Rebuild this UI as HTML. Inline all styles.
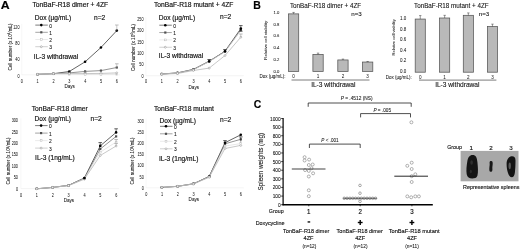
<!DOCTYPE html>
<html><head><meta charset="utf-8"><style>
html,body{margin:0;padding:0;background:#fff;}
svg{display:block;font-family:"Liberation Sans", sans-serif;filter:blur(0.3px);}
text{stroke:#111;}
</style></head><body>
<svg width="520" height="249" viewBox="0 0 520 249">
<rect width="520" height="249" fill="#fff"/>
<text x="0.70" y="9.10" font-size="10.6" text-anchor="start" font-weight="bold" fill="#000"  textLength="8.9" lengthAdjust="spacingAndGlyphs" stroke-width="0.160">A</text>
<text x="32.50" y="7.30" font-size="6.7" text-anchor="start" font-weight="normal" fill="#111"  stroke-width="0.160">TonBaF-R18 dimer + 4ZF</text>
<text x="34.80" y="20.40" font-size="6.6" text-anchor="start" font-weight="normal" fill="#111"  stroke-width="0.160">Dox (µg/mL)</text>
<text x="94.00" y="20.20" font-size="6.6" text-anchor="start" font-weight="normal" fill="#111"  stroke-width="0.160">n=2</text>
<line x1="35.30" y1="25.10" x2="47.80" y2="25.10" stroke="#222" stroke-width="0.6" />
<circle cx="41.30" cy="25.10" r="1.3" fill="#000" stroke="none" stroke-width="0.6"/>
<text x="49.30" y="27.60" font-size="4.9" text-anchor="start" font-weight="normal" fill="#111"  stroke-width="0.072">0</text>
<line x1="35.30" y1="32.30" x2="47.80" y2="32.30" stroke="#666" stroke-width="0.6" />
<rect x="40.20" y="31.20" width="2.20" height="2.20" fill="#505050" stroke="none" stroke-width="0.6" />
<text x="49.30" y="34.80" font-size="4.9" text-anchor="start" font-weight="normal" fill="#111"  stroke-width="0.072">1</text>
<line x1="35.30" y1="39.50" x2="47.80" y2="39.50" stroke="#dedede" stroke-width="0.6" />
<rect x="40.40" y="38.60" width="1.80" height="1.80" fill="#fff" stroke="#bbb" stroke-width="0.5" />
<text x="49.30" y="42.00" font-size="4.9" text-anchor="start" font-weight="normal" fill="#111"  stroke-width="0.072">2</text>
<line x1="35.30" y1="46.70" x2="47.80" y2="46.70" stroke="#b0b0b0" stroke-width="0.6" />
<circle cx="41.30" cy="46.70" r="0.95" fill="#fff" stroke="#888" stroke-width="0.5"/>
<text x="49.30" y="49.20" font-size="4.9" text-anchor="start" font-weight="normal" fill="#111"  stroke-width="0.072">3</text>
<text x="33.80" y="59.30" font-size="6.6" text-anchor="start" font-weight="normal" fill="#111"  stroke-width="0.160">IL-3 withdrawal</text>
<line x1="21.70" y1="74.80" x2="119.80" y2="74.80" stroke="#ececec" stroke-width="0.6" />
<line x1="21.70" y1="74.80" x2="21.70" y2="23.84" stroke="#f2f2f2" stroke-width="0.6" />
<text x="19.60" y="77.60" font-size="5.3" text-anchor="end" font-weight="normal" fill="#111"  textLength="2.12" lengthAdjust="spacingAndGlyphs" stroke-width="0.020">0</text>
<text x="19.60" y="61.28" font-size="5.3" text-anchor="end" font-weight="normal" fill="#111"  textLength="4.24" lengthAdjust="spacingAndGlyphs" stroke-width="0.020">40</text>
<text x="19.60" y="44.96" font-size="5.3" text-anchor="end" font-weight="normal" fill="#111"  textLength="4.24" lengthAdjust="spacingAndGlyphs" stroke-width="0.020">80</text>
<text x="19.60" y="28.64" font-size="5.3" text-anchor="end" font-weight="normal" fill="#111"  textLength="6.37" lengthAdjust="spacingAndGlyphs" stroke-width="0.020">120</text>
<text x="21.80" y="82.60" font-size="5.3" text-anchor="middle" font-weight="normal" fill="#111"  textLength="2.12" lengthAdjust="spacingAndGlyphs" stroke-width="0.020">0</text>
<text x="37.65" y="82.60" font-size="5.3" text-anchor="middle" font-weight="normal" fill="#111"  textLength="2.12" lengthAdjust="spacingAndGlyphs" stroke-width="0.020">1</text>
<text x="53.50" y="82.60" font-size="5.3" text-anchor="middle" font-weight="normal" fill="#111"  textLength="2.12" lengthAdjust="spacingAndGlyphs" stroke-width="0.020">2</text>
<text x="69.35" y="82.60" font-size="5.3" text-anchor="middle" font-weight="normal" fill="#111"  textLength="2.12" lengthAdjust="spacingAndGlyphs" stroke-width="0.020">3</text>
<text x="85.20" y="82.60" font-size="5.3" text-anchor="middle" font-weight="normal" fill="#111"  textLength="2.12" lengthAdjust="spacingAndGlyphs" stroke-width="0.020">4</text>
<text x="101.05" y="82.60" font-size="5.3" text-anchor="middle" font-weight="normal" fill="#111"  textLength="2.12" lengthAdjust="spacingAndGlyphs" stroke-width="0.020">5</text>
<text x="116.90" y="82.60" font-size="5.3" text-anchor="middle" font-weight="normal" fill="#111"  textLength="2.12" lengthAdjust="spacingAndGlyphs" stroke-width="0.020">6</text>
<text x="69.65" y="88.10" font-size="4.6" text-anchor="middle" font-weight="normal" fill="#111"  stroke-width="0.048">Days</text>
<text stroke-width="0.066" transform="translate(11.80,47.00) rotate(-90)" font-size="4.6" text-anchor="middle" fill="#111">Cell number (x 10<tspan font-size="3" dy="-1.5">4</tspan><tspan dy="1.5">/mL)</tspan></text>
<polyline points="37.55,74.30 53.40,73.70 69.25,71.50 85.10,61.80 100.95,47.50 116.80,30.60" fill="none" stroke="#222" stroke-width="0.7"/>
<polyline points="37.55,74.30 53.40,73.70 69.25,72.90 85.10,71.40 100.95,70.60 116.80,67.50" fill="none" stroke="#666" stroke-width="0.7"/>
<polyline points="37.55,74.30 53.40,73.70 69.25,74.20 85.10,74.40 100.95,74.40 116.80,74.20" fill="none" stroke="#dedede" stroke-width="0.7"/>
<polyline points="37.55,74.30 53.40,73.70 69.25,73.60 85.10,73.60 100.95,73.40 116.80,72.90" fill="none" stroke="#b0b0b0" stroke-width="0.7"/>
<circle cx="37.55" cy="74.30" r="1.3" fill="#000" stroke="none" stroke-width="0.6"/>
<circle cx="53.40" cy="73.70" r="1.3" fill="#000" stroke="none" stroke-width="0.6"/>
<circle cx="69.25" cy="71.50" r="1.3" fill="#000" stroke="none" stroke-width="0.6"/>
<rect x="36.45" y="73.20" width="2.20" height="2.20" fill="#505050" stroke="none" stroke-width="0.6" />
<rect x="52.30" y="72.60" width="2.20" height="2.20" fill="#505050" stroke="none" stroke-width="0.6" />
<rect x="68.15" y="71.80" width="2.20" height="2.20" fill="#505050" stroke="none" stroke-width="0.6" />
<rect x="36.65" y="73.40" width="1.80" height="1.80" fill="#fff" stroke="#bbb" stroke-width="0.5" />
<rect x="52.50" y="72.80" width="1.80" height="1.80" fill="#fff" stroke="#bbb" stroke-width="0.5" />
<rect x="68.35" y="73.30" width="1.80" height="1.80" fill="#fff" stroke="#bbb" stroke-width="0.5" />
<circle cx="37.55" cy="74.30" r="0.95" fill="#fff" stroke="#888" stroke-width="0.5"/>
<circle cx="53.40" cy="73.70" r="0.95" fill="#fff" stroke="#888" stroke-width="0.5"/>
<circle cx="69.25" cy="73.60" r="0.95" fill="#fff" stroke="#888" stroke-width="0.5"/>
<circle cx="85.10" cy="73.60" r="0.95" fill="#fff" stroke="#888" stroke-width="0.5"/>
<circle cx="100.95" cy="73.40" r="0.95" fill="#fff" stroke="#888" stroke-width="0.5"/>
<circle cx="116.80" cy="72.90" r="0.95" fill="#fff" stroke="#888" stroke-width="0.5"/>
<rect x="84.20" y="73.50" width="1.80" height="1.80" fill="#fff" stroke="#bbb" stroke-width="0.5" />
<rect x="100.05" y="73.50" width="1.80" height="1.80" fill="#fff" stroke="#bbb" stroke-width="0.5" />
<rect x="115.90" y="73.30" width="1.80" height="1.80" fill="#fff" stroke="#bbb" stroke-width="0.5" />
<rect x="84.00" y="70.30" width="2.20" height="2.20" fill="#505050" stroke="none" stroke-width="0.6" />
<rect x="99.85" y="69.50" width="2.20" height="2.20" fill="#505050" stroke="none" stroke-width="0.6" />
<rect x="115.70" y="66.40" width="2.20" height="2.20" fill="#505050" stroke="none" stroke-width="0.6" />
<circle cx="85.10" cy="61.80" r="1.3" fill="#000" stroke="none" stroke-width="0.6"/>
<circle cx="100.95" cy="47.50" r="1.3" fill="#000" stroke="none" stroke-width="0.6"/>
<circle cx="116.80" cy="30.60" r="1.3" fill="#000" stroke="none" stroke-width="0.6"/>
<line x1="85.10" y1="73.80" x2="85.10" y2="72.00" stroke="#9a9a9a" stroke-width="0.55" />
<line x1="83.30" y1="72.00" x2="86.90" y2="72.00" stroke="#9a9a9a" stroke-width="0.65" />
<line x1="116.80" y1="67.50" x2="116.80" y2="63.80" stroke="#9a9a9a" stroke-width="0.55" />
<line x1="115.00" y1="63.80" x2="118.60" y2="63.80" stroke="#9a9a9a" stroke-width="0.65" />
<line x1="116.80" y1="30.60" x2="116.80" y2="25.00" stroke="#9a9a9a" stroke-width="0.55" />
<line x1="115.00" y1="25.00" x2="118.60" y2="25.00" stroke="#9a9a9a" stroke-width="0.65" />
<text x="154.00" y="7.30" font-size="6.7" text-anchor="start" font-weight="normal" fill="#111"  stroke-width="0.160">TonBaF-R18 mutant + 4ZF</text>
<text x="158.80" y="19.80" font-size="6.6" text-anchor="start" font-weight="normal" fill="#111"  stroke-width="0.160">Dox (µg/mL)</text>
<text x="220.00" y="19.20" font-size="6.6" text-anchor="start" font-weight="normal" fill="#111"  stroke-width="0.160">n=2</text>
<line x1="159.30" y1="25.20" x2="171.80" y2="25.20" stroke="#222" stroke-width="0.6" />
<circle cx="165.30" cy="25.20" r="1.3" fill="#000" stroke="none" stroke-width="0.6"/>
<text x="173.30" y="27.70" font-size="4.9" text-anchor="start" font-weight="normal" fill="#111"  stroke-width="0.072">0</text>
<line x1="159.30" y1="32.55" x2="171.80" y2="32.55" stroke="#666" stroke-width="0.6" />
<rect x="164.20" y="31.45" width="2.20" height="2.20" fill="#505050" stroke="none" stroke-width="0.6" />
<text x="173.30" y="35.05" font-size="4.9" text-anchor="start" font-weight="normal" fill="#111"  stroke-width="0.072">1</text>
<line x1="159.30" y1="39.90" x2="171.80" y2="39.90" stroke="#dedede" stroke-width="0.6" />
<rect x="164.40" y="39.00" width="1.80" height="1.80" fill="#fff" stroke="#bbb" stroke-width="0.5" />
<text x="173.30" y="42.40" font-size="4.9" text-anchor="start" font-weight="normal" fill="#111"  stroke-width="0.072">2</text>
<line x1="159.30" y1="47.25" x2="171.80" y2="47.25" stroke="#b0b0b0" stroke-width="0.6" />
<circle cx="165.30" cy="47.25" r="0.95" fill="#fff" stroke="#888" stroke-width="0.5"/>
<text x="173.30" y="49.75" font-size="4.9" text-anchor="start" font-weight="normal" fill="#111"  stroke-width="0.072">3</text>
<text x="158.80" y="57.90" font-size="6.6" text-anchor="start" font-weight="normal" fill="#111"  stroke-width="0.160">IL-3 withdrawal</text>
<line x1="145.90" y1="75.70" x2="243.82" y2="75.70" stroke="#ececec" stroke-width="0.6" />
<line x1="145.90" y1="75.70" x2="145.90" y2="17.20" stroke="#f2f2f2" stroke-width="0.6" />
<text x="143.60" y="77.60" font-size="5.3" text-anchor="end" font-weight="normal" fill="#111"  textLength="2.12" lengthAdjust="spacingAndGlyphs" stroke-width="0.020">0</text>
<text x="143.60" y="66.30" font-size="5.3" text-anchor="end" font-weight="normal" fill="#111"  textLength="4.24" lengthAdjust="spacingAndGlyphs" stroke-width="0.020">50</text>
<text x="143.60" y="55.00" font-size="5.3" text-anchor="end" font-weight="normal" fill="#111"  textLength="6.37" lengthAdjust="spacingAndGlyphs" stroke-width="0.020">100</text>
<text x="143.60" y="43.70" font-size="5.3" text-anchor="end" font-weight="normal" fill="#111"  textLength="6.37" lengthAdjust="spacingAndGlyphs" stroke-width="0.020">150</text>
<text x="143.60" y="32.40" font-size="5.3" text-anchor="end" font-weight="normal" fill="#111"  textLength="6.37" lengthAdjust="spacingAndGlyphs" stroke-width="0.020">200</text>
<text x="143.60" y="21.10" font-size="5.3" text-anchor="end" font-weight="normal" fill="#111"  textLength="6.37" lengthAdjust="spacingAndGlyphs" stroke-width="0.020">250</text>
<text x="146.00" y="82.70" font-size="5.3" text-anchor="middle" font-weight="normal" fill="#111"  textLength="2.12" lengthAdjust="spacingAndGlyphs" stroke-width="0.020">0</text>
<text x="161.82" y="82.70" font-size="5.3" text-anchor="middle" font-weight="normal" fill="#111"  textLength="2.12" lengthAdjust="spacingAndGlyphs" stroke-width="0.020">1</text>
<text x="177.64" y="82.70" font-size="5.3" text-anchor="middle" font-weight="normal" fill="#111"  textLength="2.12" lengthAdjust="spacingAndGlyphs" stroke-width="0.020">2</text>
<text x="193.46" y="82.70" font-size="5.3" text-anchor="middle" font-weight="normal" fill="#111"  textLength="2.12" lengthAdjust="spacingAndGlyphs" stroke-width="0.020">3</text>
<text x="209.28" y="82.70" font-size="5.3" text-anchor="middle" font-weight="normal" fill="#111"  textLength="2.12" lengthAdjust="spacingAndGlyphs" stroke-width="0.020">4</text>
<text x="225.10" y="82.70" font-size="5.3" text-anchor="middle" font-weight="normal" fill="#111"  textLength="2.12" lengthAdjust="spacingAndGlyphs" stroke-width="0.020">5</text>
<text x="240.92" y="82.70" font-size="5.3" text-anchor="middle" font-weight="normal" fill="#111"  textLength="2.12" lengthAdjust="spacingAndGlyphs" stroke-width="0.020">6</text>
<text x="193.76" y="88.52" font-size="4.6" text-anchor="middle" font-weight="normal" fill="#111"  stroke-width="0.048">Days</text>
<text stroke-width="0.066" transform="translate(134.50,47.50) rotate(-90)" font-size="4.6" text-anchor="middle" fill="#111">Cell number (x 10<tspan font-size="3" dy="-1.5">4</tspan><tspan dy="1.5">/mL)</tspan></text>
<polyline points="161.72,74.00 177.54,72.90 193.36,69.40 209.18,61.50 225.00,51.20 240.82,28.60" fill="none" stroke="#222" stroke-width="0.7"/>
<polyline points="161.72,74.00 177.54,73.00 193.36,69.60 209.18,61.00 225.00,51.60 240.82,30.00" fill="none" stroke="#666" stroke-width="0.7"/>
<polyline points="161.72,74.10 177.54,73.10 193.36,69.80 209.18,61.60 225.00,51.80 240.82,30.50" fill="none" stroke="#dedede" stroke-width="0.7"/>
<polyline points="161.72,74.30 177.54,73.50 193.36,70.50 209.18,68.10 225.00,55.50 240.82,37.20" fill="none" stroke="#b0b0b0" stroke-width="0.7"/>
<circle cx="161.72" cy="74.00" r="1.3" fill="#000" stroke="none" stroke-width="0.6"/>
<circle cx="177.54" cy="72.90" r="1.3" fill="#000" stroke="none" stroke-width="0.6"/>
<circle cx="193.36" cy="69.40" r="1.3" fill="#000" stroke="none" stroke-width="0.6"/>
<rect x="160.62" y="72.90" width="2.20" height="2.20" fill="#505050" stroke="none" stroke-width="0.6" />
<rect x="176.44" y="71.90" width="2.20" height="2.20" fill="#505050" stroke="none" stroke-width="0.6" />
<rect x="192.26" y="68.50" width="2.20" height="2.20" fill="#505050" stroke="none" stroke-width="0.6" />
<rect x="160.82" y="73.20" width="1.80" height="1.80" fill="#fff" stroke="#bbb" stroke-width="0.5" />
<rect x="176.64" y="72.20" width="1.80" height="1.80" fill="#fff" stroke="#bbb" stroke-width="0.5" />
<rect x="192.46" y="68.90" width="1.80" height="1.80" fill="#fff" stroke="#bbb" stroke-width="0.5" />
<circle cx="161.72" cy="74.30" r="0.95" fill="#fff" stroke="#888" stroke-width="0.5"/>
<circle cx="177.54" cy="73.50" r="0.95" fill="#fff" stroke="#888" stroke-width="0.5"/>
<circle cx="193.36" cy="70.50" r="0.95" fill="#fff" stroke="#888" stroke-width="0.5"/>
<circle cx="209.18" cy="68.10" r="0.95" fill="#fff" stroke="#888" stroke-width="0.5"/>
<circle cx="225.00" cy="55.50" r="0.95" fill="#fff" stroke="#888" stroke-width="0.5"/>
<circle cx="240.82" cy="37.20" r="0.95" fill="#fff" stroke="#888" stroke-width="0.5"/>
<rect x="208.28" y="60.70" width="1.80" height="1.80" fill="#fff" stroke="#bbb" stroke-width="0.5" />
<rect x="224.10" y="50.90" width="1.80" height="1.80" fill="#fff" stroke="#bbb" stroke-width="0.5" />
<rect x="239.92" y="29.60" width="1.80" height="1.80" fill="#fff" stroke="#bbb" stroke-width="0.5" />
<rect x="208.08" y="59.90" width="2.20" height="2.20" fill="#505050" stroke="none" stroke-width="0.6" />
<rect x="223.90" y="50.50" width="2.20" height="2.20" fill="#505050" stroke="none" stroke-width="0.6" />
<rect x="239.72" y="28.90" width="2.20" height="2.20" fill="#505050" stroke="none" stroke-width="0.6" />
<circle cx="209.18" cy="61.50" r="1.3" fill="#000" stroke="none" stroke-width="0.6"/>
<circle cx="225.00" cy="51.20" r="1.3" fill="#000" stroke="none" stroke-width="0.6"/>
<circle cx="240.82" cy="28.60" r="1.3" fill="#000" stroke="none" stroke-width="0.6"/>
<line x1="240.82" y1="37.20" x2="240.82" y2="34.00" stroke="#999" stroke-width="0.55" />
<line x1="239.02" y1="34.00" x2="242.62" y2="34.00" stroke="#999" stroke-width="0.65" />
<line x1="209.18" y1="61.00" x2="209.18" y2="59.50" stroke="#111" stroke-width="0.55" />
<line x1="207.38" y1="59.50" x2="210.98" y2="59.50" stroke="#111" stroke-width="0.65" />
<line x1="240.82" y1="30.00" x2="240.82" y2="31.20" stroke="#111" stroke-width="0.55" />
<line x1="239.02" y1="31.20" x2="242.62" y2="31.20" stroke="#111" stroke-width="0.65" />
<line x1="240.82" y1="28.60" x2="240.82" y2="25.60" stroke="#111" stroke-width="0.55" />
<line x1="239.02" y1="25.60" x2="242.62" y2="25.60" stroke="#111" stroke-width="0.65" />
<line x1="225.00" y1="51.20" x2="225.00" y2="49.50" stroke="#111" stroke-width="0.55" />
<line x1="223.20" y1="49.50" x2="226.80" y2="49.50" stroke="#111" stroke-width="0.65" />
<text x="31.70" y="110.90" font-size="6.7" text-anchor="start" font-weight="normal" fill="#111"  stroke-width="0.160">TonBaF-R18 dimer</text>
<text x="34.60" y="121.00" font-size="6.6" text-anchor="start" font-weight="normal" fill="#111"  stroke-width="0.160">Dox (µg/mL)</text>
<text x="90.50" y="121.00" font-size="6.6" text-anchor="start" font-weight="normal" fill="#111"  stroke-width="0.160">n=2</text>
<line x1="35.10" y1="125.60" x2="47.60" y2="125.60" stroke="#222" stroke-width="0.6" />
<circle cx="41.10" cy="125.60" r="1.3" fill="#000" stroke="none" stroke-width="0.6"/>
<text x="49.10" y="128.10" font-size="4.9" text-anchor="start" font-weight="normal" fill="#111"  stroke-width="0.072">0</text>
<line x1="35.10" y1="133.10" x2="47.60" y2="133.10" stroke="#666" stroke-width="0.6" />
<rect x="40.00" y="132.00" width="2.20" height="2.20" fill="#505050" stroke="none" stroke-width="0.6" />
<text x="49.10" y="135.60" font-size="4.9" text-anchor="start" font-weight="normal" fill="#111"  stroke-width="0.072">1</text>
<line x1="35.10" y1="140.60" x2="47.60" y2="140.60" stroke="#dedede" stroke-width="0.6" />
<rect x="40.20" y="139.70" width="1.80" height="1.80" fill="#fff" stroke="#bbb" stroke-width="0.5" />
<text x="49.10" y="143.10" font-size="4.9" text-anchor="start" font-weight="normal" fill="#111"  stroke-width="0.072">2</text>
<line x1="35.10" y1="148.10" x2="47.60" y2="148.10" stroke="#b0b0b0" stroke-width="0.6" />
<circle cx="41.10" cy="148.10" r="0.95" fill="#fff" stroke="#888" stroke-width="0.5"/>
<text x="49.10" y="150.60" font-size="4.9" text-anchor="start" font-weight="normal" fill="#111"  stroke-width="0.072">3</text>
<text x="35.10" y="160.40" font-size="6.6" text-anchor="start" font-weight="normal" fill="#111"  stroke-width="0.160">IL-3 (1ng/mL)</text>
<line x1="20.90" y1="188.60" x2="119.12" y2="188.60" stroke="#ececec" stroke-width="0.6" />
<line x1="20.90" y1="188.60" x2="20.90" y2="118.29" stroke="#f2f2f2" stroke-width="0.6" />
<text x="18.00" y="190.50" font-size="5.3" text-anchor="end" font-weight="normal" fill="#111"  textLength="2.12" lengthAdjust="spacingAndGlyphs" stroke-width="0.020">0</text>
<text x="18.00" y="179.12" font-size="5.3" text-anchor="end" font-weight="normal" fill="#111"  textLength="4.24" lengthAdjust="spacingAndGlyphs" stroke-width="0.020">50</text>
<text x="18.00" y="167.73" font-size="5.3" text-anchor="end" font-weight="normal" fill="#111"  textLength="6.37" lengthAdjust="spacingAndGlyphs" stroke-width="0.020">100</text>
<text x="18.00" y="156.34" font-size="5.3" text-anchor="end" font-weight="normal" fill="#111"  textLength="6.37" lengthAdjust="spacingAndGlyphs" stroke-width="0.020">150</text>
<text x="18.00" y="144.96" font-size="5.3" text-anchor="end" font-weight="normal" fill="#111"  textLength="6.37" lengthAdjust="spacingAndGlyphs" stroke-width="0.020">200</text>
<text x="18.00" y="133.57" font-size="5.3" text-anchor="end" font-weight="normal" fill="#111"  textLength="6.37" lengthAdjust="spacingAndGlyphs" stroke-width="0.020">250</text>
<text x="18.00" y="122.19" font-size="5.3" text-anchor="end" font-weight="normal" fill="#111"  textLength="6.37" lengthAdjust="spacingAndGlyphs" stroke-width="0.020">300</text>
<text x="21.00" y="197.20" font-size="5.3" text-anchor="middle" font-weight="normal" fill="#111"  textLength="2.12" lengthAdjust="spacingAndGlyphs" stroke-width="0.020">0</text>
<text x="36.87" y="197.20" font-size="5.3" text-anchor="middle" font-weight="normal" fill="#111"  textLength="2.12" lengthAdjust="spacingAndGlyphs" stroke-width="0.020">1</text>
<text x="52.74" y="197.20" font-size="5.3" text-anchor="middle" font-weight="normal" fill="#111"  textLength="2.12" lengthAdjust="spacingAndGlyphs" stroke-width="0.020">2</text>
<text x="68.61" y="197.20" font-size="5.3" text-anchor="middle" font-weight="normal" fill="#111"  textLength="2.12" lengthAdjust="spacingAndGlyphs" stroke-width="0.020">3</text>
<text x="84.48" y="197.20" font-size="5.3" text-anchor="middle" font-weight="normal" fill="#111"  textLength="2.12" lengthAdjust="spacingAndGlyphs" stroke-width="0.020">4</text>
<text x="100.35" y="197.20" font-size="5.3" text-anchor="middle" font-weight="normal" fill="#111"  textLength="2.12" lengthAdjust="spacingAndGlyphs" stroke-width="0.020">5</text>
<text x="116.22" y="197.20" font-size="5.3" text-anchor="middle" font-weight="normal" fill="#111"  textLength="2.12" lengthAdjust="spacingAndGlyphs" stroke-width="0.020">6</text>
<text x="68.91" y="202.38" font-size="4.6" text-anchor="middle" font-weight="normal" fill="#111"  stroke-width="0.048">Days</text>
<text stroke-width="0.066" transform="translate(10.20,161.00) rotate(-90)" font-size="4.6" text-anchor="middle" fill="#111">Cell number (x 10<tspan font-size="3" dy="-1.5">4</tspan><tspan dy="1.5">/mL)</tspan></text>
<polyline points="36.77,188.80 52.64,187.40 68.51,185.40 84.38,178.00 100.25,145.90 116.12,132.40" fill="none" stroke="#222" stroke-width="0.7"/>
<polyline points="36.77,188.80 52.64,187.40 68.51,185.40 84.38,178.20 100.25,149.00 116.12,136.40" fill="none" stroke="#666" stroke-width="0.7"/>
<polyline points="36.77,188.80 52.64,187.40 68.51,185.60 84.38,178.60 100.25,152.20 116.12,142.00" fill="none" stroke="#dedede" stroke-width="0.7"/>
<polyline points="36.77,188.80 52.64,187.40 68.51,185.60 84.38,179.20 100.25,155.50 116.12,146.00" fill="none" stroke="#b0b0b0" stroke-width="0.7"/>
<circle cx="36.77" cy="188.80" r="1.3" fill="#000" stroke="none" stroke-width="0.6"/>
<circle cx="52.64" cy="187.40" r="1.3" fill="#000" stroke="none" stroke-width="0.6"/>
<circle cx="68.51" cy="185.40" r="1.3" fill="#000" stroke="none" stroke-width="0.6"/>
<rect x="35.67" y="187.70" width="2.20" height="2.20" fill="#505050" stroke="none" stroke-width="0.6" />
<rect x="51.54" y="186.30" width="2.20" height="2.20" fill="#505050" stroke="none" stroke-width="0.6" />
<rect x="67.41" y="184.30" width="2.20" height="2.20" fill="#505050" stroke="none" stroke-width="0.6" />
<rect x="35.87" y="187.90" width="1.80" height="1.80" fill="#fff" stroke="#bbb" stroke-width="0.5" />
<rect x="51.74" y="186.50" width="1.80" height="1.80" fill="#fff" stroke="#bbb" stroke-width="0.5" />
<rect x="67.61" y="184.70" width="1.80" height="1.80" fill="#fff" stroke="#bbb" stroke-width="0.5" />
<circle cx="36.77" cy="188.80" r="0.95" fill="#fff" stroke="#888" stroke-width="0.5"/>
<circle cx="52.64" cy="187.40" r="0.95" fill="#fff" stroke="#888" stroke-width="0.5"/>
<circle cx="68.51" cy="185.60" r="0.95" fill="#fff" stroke="#888" stroke-width="0.5"/>
<circle cx="84.38" cy="179.20" r="0.95" fill="#fff" stroke="#888" stroke-width="0.5"/>
<circle cx="100.25" cy="155.50" r="0.95" fill="#fff" stroke="#888" stroke-width="0.5"/>
<circle cx="116.12" cy="146.00" r="0.95" fill="#fff" stroke="#888" stroke-width="0.5"/>
<rect x="83.48" y="177.70" width="1.80" height="1.80" fill="#fff" stroke="#bbb" stroke-width="0.5" />
<rect x="99.35" y="151.30" width="1.80" height="1.80" fill="#fff" stroke="#bbb" stroke-width="0.5" />
<rect x="115.22" y="141.10" width="1.80" height="1.80" fill="#fff" stroke="#bbb" stroke-width="0.5" />
<rect x="83.28" y="177.10" width="2.20" height="2.20" fill="#505050" stroke="none" stroke-width="0.6" />
<rect x="99.15" y="147.90" width="2.20" height="2.20" fill="#505050" stroke="none" stroke-width="0.6" />
<rect x="115.02" y="135.30" width="2.20" height="2.20" fill="#505050" stroke="none" stroke-width="0.6" />
<circle cx="84.38" cy="178.00" r="1.3" fill="#000" stroke="none" stroke-width="0.6"/>
<circle cx="100.25" cy="145.90" r="1.3" fill="#000" stroke="none" stroke-width="0.6"/>
<circle cx="116.12" cy="132.40" r="1.3" fill="#000" stroke="none" stroke-width="0.6"/>
<line x1="116.12" y1="146.00" x2="116.12" y2="143.50" stroke="#999" stroke-width="0.55" />
<line x1="114.32" y1="143.50" x2="117.92" y2="143.50" stroke="#999" stroke-width="0.65" />
<line x1="116.12" y1="142.00" x2="116.12" y2="139.50" stroke="#999" stroke-width="0.55" />
<line x1="114.32" y1="139.50" x2="117.92" y2="139.50" stroke="#999" stroke-width="0.65" />
<line x1="100.25" y1="145.90" x2="100.25" y2="142.60" stroke="#111" stroke-width="0.55" />
<line x1="98.45" y1="142.60" x2="102.05" y2="142.60" stroke="#111" stroke-width="0.65" />
<line x1="116.12" y1="132.40" x2="116.12" y2="128.80" stroke="#111" stroke-width="0.55" />
<line x1="114.32" y1="128.80" x2="117.92" y2="128.80" stroke="#111" stroke-width="0.65" />
<text x="153.90" y="110.60" font-size="6.7" text-anchor="start" font-weight="normal" fill="#111"  stroke-width="0.160">TonBaF-R18 mutant</text>
<text x="159.50" y="122.60" font-size="6.6" text-anchor="start" font-weight="normal" fill="#111"  stroke-width="0.160">Dox (µg/mL)</text>
<text x="220.00" y="121.60" font-size="6.6" text-anchor="start" font-weight="normal" fill="#111"  stroke-width="0.160">n=2</text>
<line x1="160.00" y1="126.30" x2="172.50" y2="126.30" stroke="#222" stroke-width="0.6" />
<circle cx="166.00" cy="126.30" r="1.3" fill="#000" stroke="none" stroke-width="0.6"/>
<text x="174.00" y="128.80" font-size="4.9" text-anchor="start" font-weight="normal" fill="#111"  stroke-width="0.072">0</text>
<line x1="160.00" y1="133.80" x2="172.50" y2="133.80" stroke="#666" stroke-width="0.6" />
<rect x="164.90" y="132.70" width="2.20" height="2.20" fill="#505050" stroke="none" stroke-width="0.6" />
<text x="174.00" y="136.30" font-size="4.9" text-anchor="start" font-weight="normal" fill="#111"  stroke-width="0.072">1</text>
<line x1="160.00" y1="141.30" x2="172.50" y2="141.30" stroke="#dedede" stroke-width="0.6" />
<rect x="165.10" y="140.40" width="1.80" height="1.80" fill="#fff" stroke="#bbb" stroke-width="0.5" />
<text x="174.00" y="143.80" font-size="4.9" text-anchor="start" font-weight="normal" fill="#111"  stroke-width="0.072">2</text>
<line x1="160.00" y1="148.80" x2="172.50" y2="148.80" stroke="#b0b0b0" stroke-width="0.6" />
<circle cx="166.00" cy="148.80" r="0.95" fill="#fff" stroke="#888" stroke-width="0.5"/>
<text x="174.00" y="151.30" font-size="4.9" text-anchor="start" font-weight="normal" fill="#111"  stroke-width="0.072">3</text>
<text x="158.90" y="160.80" font-size="6.6" text-anchor="start" font-weight="normal" fill="#111"  stroke-width="0.160">IL-3 (1ng/mL)</text>
<line x1="146.10" y1="187.80" x2="243.78" y2="187.80" stroke="#ececec" stroke-width="0.6" />
<line x1="146.10" y1="187.80" x2="146.10" y2="118.75" stroke="#f2f2f2" stroke-width="0.6" />
<text x="143.80" y="189.70" font-size="5.3" text-anchor="end" font-weight="normal" fill="#111"  textLength="2.12" lengthAdjust="spacingAndGlyphs" stroke-width="0.020">0</text>
<text x="143.80" y="178.53" font-size="5.3" text-anchor="end" font-weight="normal" fill="#111"  textLength="4.24" lengthAdjust="spacingAndGlyphs" stroke-width="0.020">50</text>
<text x="143.80" y="167.35" font-size="5.3" text-anchor="end" font-weight="normal" fill="#111"  textLength="6.37" lengthAdjust="spacingAndGlyphs" stroke-width="0.020">100</text>
<text x="143.80" y="156.18" font-size="5.3" text-anchor="end" font-weight="normal" fill="#111"  textLength="6.37" lengthAdjust="spacingAndGlyphs" stroke-width="0.020">150</text>
<text x="143.80" y="145.00" font-size="5.3" text-anchor="end" font-weight="normal" fill="#111"  textLength="6.37" lengthAdjust="spacingAndGlyphs" stroke-width="0.020">200</text>
<text x="143.80" y="133.83" font-size="5.3" text-anchor="end" font-weight="normal" fill="#111"  textLength="6.37" lengthAdjust="spacingAndGlyphs" stroke-width="0.020">250</text>
<text x="143.80" y="122.65" font-size="5.3" text-anchor="end" font-weight="normal" fill="#111"  textLength="6.37" lengthAdjust="spacingAndGlyphs" stroke-width="0.020">300</text>
<text x="146.20" y="195.90" font-size="5.3" text-anchor="middle" font-weight="normal" fill="#111"  textLength="2.12" lengthAdjust="spacingAndGlyphs" stroke-width="0.020">0</text>
<text x="161.98" y="195.90" font-size="5.3" text-anchor="middle" font-weight="normal" fill="#111"  textLength="2.12" lengthAdjust="spacingAndGlyphs" stroke-width="0.020">1</text>
<text x="177.76" y="195.90" font-size="5.3" text-anchor="middle" font-weight="normal" fill="#111"  textLength="2.12" lengthAdjust="spacingAndGlyphs" stroke-width="0.020">2</text>
<text x="193.54" y="195.90" font-size="5.3" text-anchor="middle" font-weight="normal" fill="#111"  textLength="2.12" lengthAdjust="spacingAndGlyphs" stroke-width="0.020">3</text>
<text x="209.32" y="195.90" font-size="5.3" text-anchor="middle" font-weight="normal" fill="#111"  textLength="2.12" lengthAdjust="spacingAndGlyphs" stroke-width="0.020">4</text>
<text x="225.10" y="195.90" font-size="5.3" text-anchor="middle" font-weight="normal" fill="#111"  textLength="2.12" lengthAdjust="spacingAndGlyphs" stroke-width="0.020">5</text>
<text x="240.88" y="195.90" font-size="5.3" text-anchor="middle" font-weight="normal" fill="#111"  textLength="2.12" lengthAdjust="spacingAndGlyphs" stroke-width="0.020">6</text>
<text x="193.84" y="201.28" font-size="4.6" text-anchor="middle" font-weight="normal" fill="#111"  stroke-width="0.048">Days</text>
<text stroke-width="0.066" transform="translate(134.00,161.00) rotate(-90)" font-size="4.6" text-anchor="middle" fill="#111">Cell number (x 10<tspan font-size="3" dy="-1.5">4</tspan><tspan dy="1.5">/mL)</tspan></text>
<polyline points="161.88,187.40 177.66,186.30 193.44,183.80 209.22,176.40 225.00,142.70 240.78,134.80" fill="none" stroke="#222" stroke-width="0.7"/>
<polyline points="161.88,187.40 177.66,186.30 193.44,183.80 209.22,176.60 225.00,143.80 240.78,139.30" fill="none" stroke="#666" stroke-width="0.7"/>
<polyline points="161.88,187.40 177.66,186.30 193.44,184.00 209.22,177.00 225.00,146.00 240.78,143.60" fill="none" stroke="#dedede" stroke-width="0.7"/>
<polyline points="161.88,187.40 177.66,186.30 193.44,184.00 209.22,177.20 225.00,148.50 240.78,145.40" fill="none" stroke="#b0b0b0" stroke-width="0.7"/>
<circle cx="161.88" cy="187.40" r="1.3" fill="#000" stroke="none" stroke-width="0.6"/>
<circle cx="177.66" cy="186.30" r="1.3" fill="#000" stroke="none" stroke-width="0.6"/>
<circle cx="193.44" cy="183.80" r="1.3" fill="#000" stroke="none" stroke-width="0.6"/>
<circle cx="209.22" cy="176.40" r="1.3" fill="#000" stroke="none" stroke-width="0.6"/>
<rect x="160.78" y="186.30" width="2.20" height="2.20" fill="#505050" stroke="none" stroke-width="0.6" />
<rect x="176.56" y="185.20" width="2.20" height="2.20" fill="#505050" stroke="none" stroke-width="0.6" />
<rect x="192.34" y="182.70" width="2.20" height="2.20" fill="#505050" stroke="none" stroke-width="0.6" />
<rect x="208.12" y="175.50" width="2.20" height="2.20" fill="#505050" stroke="none" stroke-width="0.6" />
<rect x="160.98" y="186.50" width="1.80" height="1.80" fill="#fff" stroke="#bbb" stroke-width="0.5" />
<rect x="176.76" y="185.40" width="1.80" height="1.80" fill="#fff" stroke="#bbb" stroke-width="0.5" />
<rect x="192.54" y="183.10" width="1.80" height="1.80" fill="#fff" stroke="#bbb" stroke-width="0.5" />
<rect x="208.32" y="176.10" width="1.80" height="1.80" fill="#fff" stroke="#bbb" stroke-width="0.5" />
<circle cx="161.88" cy="187.40" r="0.95" fill="#fff" stroke="#888" stroke-width="0.5"/>
<circle cx="177.66" cy="186.30" r="0.95" fill="#fff" stroke="#888" stroke-width="0.5"/>
<circle cx="193.44" cy="184.00" r="0.95" fill="#fff" stroke="#888" stroke-width="0.5"/>
<circle cx="209.22" cy="177.20" r="0.95" fill="#fff" stroke="#888" stroke-width="0.5"/>
<circle cx="225.00" cy="148.50" r="0.95" fill="#fff" stroke="#888" stroke-width="0.5"/>
<circle cx="240.78" cy="145.40" r="0.95" fill="#fff" stroke="#888" stroke-width="0.5"/>
<rect x="224.10" y="145.10" width="1.80" height="1.80" fill="#fff" stroke="#bbb" stroke-width="0.5" />
<rect x="239.88" y="142.70" width="1.80" height="1.80" fill="#fff" stroke="#bbb" stroke-width="0.5" />
<rect x="223.90" y="142.70" width="2.20" height="2.20" fill="#505050" stroke="none" stroke-width="0.6" />
<rect x="239.68" y="138.20" width="2.20" height="2.20" fill="#505050" stroke="none" stroke-width="0.6" />
<circle cx="225.00" cy="142.70" r="1.3" fill="#000" stroke="none" stroke-width="0.6"/>
<circle cx="240.78" cy="134.80" r="1.3" fill="#000" stroke="none" stroke-width="0.6"/>
<line x1="240.78" y1="141.60" x2="240.78" y2="136.90" stroke="#111" stroke-width="0.55" />
<line x1="238.98" y1="136.90" x2="242.58" y2="136.90" stroke="#111" stroke-width="0.65" />
<line x1="225.00" y1="142.70" x2="225.00" y2="140.60" stroke="#111" stroke-width="0.55" />
<line x1="223.20" y1="140.60" x2="226.80" y2="140.60" stroke="#111" stroke-width="0.65" />
<text x="253.20" y="9.00" font-size="10.4" text-anchor="start" font-weight="bold" fill="#000"  textLength="7.6" lengthAdjust="spacingAndGlyphs" stroke-width="0.160">B</text>
<text x="289.90" y="7.70" font-size="6.3" text-anchor="start" font-weight="normal" fill="#111"  stroke-width="0.080">TonBaF-R18 dimer + 4ZF</text>
<text x="351.30" y="16.30" font-size="6.2" text-anchor="start" font-weight="normal" fill="#111"  stroke-width="0.080">n=3</text>
<text x="279.40" y="72.60" font-size="4.2" text-anchor="end" font-weight="normal" fill="#111"  stroke-width="0.030">0.0</text>
<text x="279.40" y="60.86" font-size="4.2" text-anchor="end" font-weight="normal" fill="#111"  stroke-width="0.030">0.2</text>
<text x="279.40" y="49.12" font-size="4.2" text-anchor="end" font-weight="normal" fill="#111"  stroke-width="0.030">0.4</text>
<text x="279.40" y="37.38" font-size="4.2" text-anchor="end" font-weight="normal" fill="#111"  stroke-width="0.030">0.6</text>
<text x="279.40" y="25.64" font-size="4.2" text-anchor="end" font-weight="normal" fill="#111"  stroke-width="0.030">0.8</text>
<text x="279.40" y="13.90" font-size="4.2" text-anchor="end" font-weight="normal" fill="#111"  stroke-width="0.030">1.0</text>
<text stroke-width="0.037" transform="translate(267.30,40.30) rotate(-90)" font-size="4.34" text-anchor="middle" fill="#111">Relative cell viability</text>
<rect x="288.40" y="13.88" width="10.30" height="57.52" fill="#b9b9b9" stroke="#555" stroke-width="0.75" />
<line x1="293.55" y1="13.88" x2="293.55" y2="12.43" stroke="#333" stroke-width="0.5" />
<line x1="292.35" y1="12.43" x2="294.75" y2="12.43" stroke="#333" stroke-width="0.5" />
<text x="293.55" y="78.00" font-size="4.6" text-anchor="middle" font-weight="normal" fill="#111"  stroke-width="0.000">0</text>
<rect x="312.90" y="54.38" width="10.30" height="17.02" fill="#b9b9b9" stroke="#555" stroke-width="0.75" />
<line x1="318.05" y1="54.38" x2="318.05" y2="53.10" stroke="#333" stroke-width="0.5" />
<line x1="316.85" y1="53.10" x2="319.25" y2="53.10" stroke="#333" stroke-width="0.5" />
<text x="318.05" y="78.00" font-size="4.6" text-anchor="middle" font-weight="normal" fill="#111"  stroke-width="0.000">1</text>
<rect x="337.80" y="59.95" width="10.30" height="11.45" fill="#b9b9b9" stroke="#555" stroke-width="0.75" />
<line x1="342.95" y1="59.95" x2="342.95" y2="59.08" stroke="#333" stroke-width="0.5" />
<line x1="341.75" y1="59.08" x2="344.15" y2="59.08" stroke="#333" stroke-width="0.5" />
<text x="342.95" y="78.00" font-size="4.6" text-anchor="middle" font-weight="normal" fill="#111"  stroke-width="0.000">2</text>
<rect x="362.50" y="62.05" width="10.30" height="9.35" fill="#b9b9b9" stroke="#555" stroke-width="0.75" />
<line x1="367.65" y1="62.05" x2="367.65" y2="61.52" stroke="#333" stroke-width="0.5" />
<line x1="366.45" y1="61.52" x2="368.85" y2="61.52" stroke="#333" stroke-width="0.5" />
<text x="367.65" y="78.00" font-size="4.6" text-anchor="middle" font-weight="normal" fill="#111"  stroke-width="0.000">3</text>
<text x="285.50" y="78.00" font-size="4.5" text-anchor="end" font-weight="normal" fill="#111"  stroke-width="0.040">Dox (µg/mL):</text>
<line x1="291.50" y1="80.00" x2="369.50" y2="80.00" stroke="#111" stroke-width="0.55" />
<text x="333.30" y="86.60" font-size="6.6" text-anchor="middle" font-weight="normal" fill="#111"  stroke-width="0.100">IL-3 withdrawal</text>
<text x="414.00" y="7.60" font-size="6.3" text-anchor="start" font-weight="normal" fill="#111"  stroke-width="0.080">TonBaF-R18 mutant + 4ZF</text>
<text x="478.80" y="15.50" font-size="6.2" text-anchor="start" font-weight="normal" fill="#111"  stroke-width="0.080">n=3</text>
<text x="406.20" y="72.90" font-size="4.5" text-anchor="end" font-weight="normal" fill="#111"  stroke-width="0.030">0.0</text>
<text x="406.20" y="62.30" font-size="4.5" text-anchor="end" font-weight="normal" fill="#111"  stroke-width="0.030">0.2</text>
<text x="406.20" y="51.70" font-size="4.5" text-anchor="end" font-weight="normal" fill="#111"  stroke-width="0.030">0.4</text>
<text x="406.20" y="41.10" font-size="4.5" text-anchor="end" font-weight="normal" fill="#111"  stroke-width="0.030">0.6</text>
<text x="406.20" y="30.50" font-size="4.5" text-anchor="end" font-weight="normal" fill="#111"  stroke-width="0.030">0.8</text>
<text x="406.20" y="19.90" font-size="4.5" text-anchor="end" font-weight="normal" fill="#111"  stroke-width="0.030">1.0</text>
<text stroke-width="0.005" transform="translate(395.30,37.40) rotate(-90)" font-size="4.05" text-anchor="middle" fill="#111">Relative cell viability</text>
<rect x="415.20" y="19.07" width="10.10" height="53.13" fill="#b9b9b9" stroke="#555" stroke-width="0.75" />
<line x1="420.25" y1="19.07" x2="420.25" y2="15.60" stroke="#333" stroke-width="0.5" />
<line x1="419.05" y1="15.60" x2="421.45" y2="15.60" stroke="#333" stroke-width="0.5" />
<text x="420.25" y="79.20" font-size="4.6" text-anchor="middle" font-weight="normal" fill="#111"  stroke-width="0.000">0</text>
<rect x="439.60" y="18.00" width="10.10" height="54.20" fill="#b9b9b9" stroke="#555" stroke-width="0.75" />
<line x1="444.65" y1="18.00" x2="444.65" y2="15.33" stroke="#333" stroke-width="0.5" />
<line x1="443.45" y1="15.33" x2="445.85" y2="15.33" stroke="#333" stroke-width="0.5" />
<text x="444.65" y="79.20" font-size="4.6" text-anchor="middle" font-weight="normal" fill="#111"  stroke-width="0.000">1</text>
<rect x="463.30" y="15.33" width="10.10" height="56.87" fill="#b9b9b9" stroke="#555" stroke-width="0.75" />
<line x1="468.35" y1="15.33" x2="468.35" y2="12.93" stroke="#333" stroke-width="0.5" />
<line x1="467.15" y1="12.93" x2="469.55" y2="12.93" stroke="#333" stroke-width="0.5" />
<text x="468.35" y="79.20" font-size="4.6" text-anchor="middle" font-weight="normal" fill="#111"  stroke-width="0.000">2</text>
<rect x="487.40" y="26.54" width="10.10" height="45.66" fill="#b9b9b9" stroke="#555" stroke-width="0.75" />
<line x1="492.45" y1="26.54" x2="492.45" y2="24.14" stroke="#333" stroke-width="0.5" />
<line x1="491.25" y1="24.14" x2="493.65" y2="24.14" stroke="#333" stroke-width="0.5" />
<text x="492.45" y="79.20" font-size="4.6" text-anchor="middle" font-weight="normal" fill="#111"  stroke-width="0.000">3</text>
<text x="411.80" y="79.20" font-size="4.5" text-anchor="end" font-weight="normal" fill="#111"  stroke-width="0.040">Dox (µg/mL):</text>
<line x1="419.00" y1="80.10" x2="496.40" y2="80.10" stroke="#111" stroke-width="0.55" />
<text x="457.30" y="86.60" font-size="6.6" text-anchor="middle" font-weight="normal" fill="#111"  stroke-width="0.100">IL-3 withdrawal</text>
<text x="253.70" y="107.90" font-size="10.4" text-anchor="start" font-weight="bold" fill="#000"  stroke-width="0.160">C</text>
<line x1="283.10" y1="118.00" x2="283.10" y2="205.30" stroke="#000" stroke-width="1.2" />
<line x1="282.50" y1="204.70" x2="432.80" y2="204.70" stroke="#000" stroke-width="1.4" />
<line x1="281.10" y1="204.70" x2="283.10" y2="204.70" stroke="#000" stroke-width="0.7" />
<text x="280.70" y="206.70" font-size="4.8" text-anchor="end" font-weight="normal" fill="#111"  stroke-width="0.064">0</text>
<line x1="281.10" y1="196.08" x2="283.10" y2="196.08" stroke="#000" stroke-width="0.7" />
<text x="280.70" y="198.08" font-size="4.8" text-anchor="end" font-weight="normal" fill="#111"  stroke-width="0.064">100</text>
<line x1="281.10" y1="187.46" x2="283.10" y2="187.46" stroke="#000" stroke-width="0.7" />
<text x="280.70" y="189.46" font-size="4.8" text-anchor="end" font-weight="normal" fill="#111"  stroke-width="0.064">200</text>
<line x1="281.10" y1="178.84" x2="283.10" y2="178.84" stroke="#000" stroke-width="0.7" />
<text x="280.70" y="180.84" font-size="4.8" text-anchor="end" font-weight="normal" fill="#111"  stroke-width="0.064">300</text>
<line x1="281.10" y1="170.22" x2="283.10" y2="170.22" stroke="#000" stroke-width="0.7" />
<text x="280.70" y="172.22" font-size="4.8" text-anchor="end" font-weight="normal" fill="#111"  stroke-width="0.064">400</text>
<line x1="281.10" y1="161.60" x2="283.10" y2="161.60" stroke="#000" stroke-width="0.7" />
<text x="280.70" y="163.60" font-size="4.8" text-anchor="end" font-weight="normal" fill="#111"  stroke-width="0.064">500</text>
<line x1="281.10" y1="152.98" x2="283.10" y2="152.98" stroke="#000" stroke-width="0.7" />
<text x="280.70" y="154.98" font-size="4.8" text-anchor="end" font-weight="normal" fill="#111"  stroke-width="0.064">600</text>
<line x1="281.10" y1="144.36" x2="283.10" y2="144.36" stroke="#000" stroke-width="0.7" />
<text x="280.70" y="146.36" font-size="4.8" text-anchor="end" font-weight="normal" fill="#111"  stroke-width="0.064">700</text>
<line x1="281.10" y1="135.74" x2="283.10" y2="135.74" stroke="#000" stroke-width="0.7" />
<text x="280.70" y="137.74" font-size="4.8" text-anchor="end" font-weight="normal" fill="#111"  stroke-width="0.064">800</text>
<line x1="281.10" y1="127.12" x2="283.10" y2="127.12" stroke="#000" stroke-width="0.7" />
<text x="280.70" y="129.12" font-size="4.8" text-anchor="end" font-weight="normal" fill="#111"  stroke-width="0.064">900</text>
<line x1="281.10" y1="118.50" x2="283.10" y2="118.50" stroke="#000" stroke-width="0.7" />
<text x="280.70" y="120.50" font-size="4.8" text-anchor="end" font-weight="normal" fill="#111"  stroke-width="0.064">1000</text>
<text stroke-width="0.080" transform="translate(262.80,161.70) rotate(-90)" font-size="6.3" text-anchor="middle" fill="#111">Spleen weights (mg)</text>
<line x1="308.80" y1="204.70" x2="308.80" y2="206.30" stroke="#000" stroke-width="0.7" />
<text x="308.80" y="213.90" font-size="6.8" text-anchor="middle" font-weight="normal" fill="#111"  textLength="3.4" lengthAdjust="spacingAndGlyphs" stroke-width="0.160">1</text>
<line x1="360.20" y1="204.70" x2="360.20" y2="206.30" stroke="#000" stroke-width="0.7" />
<text x="360.20" y="213.90" font-size="6.8" text-anchor="middle" font-weight="normal" fill="#111"  textLength="3.4" lengthAdjust="spacingAndGlyphs" stroke-width="0.160">2</text>
<line x1="411.90" y1="204.70" x2="411.90" y2="206.30" stroke="#000" stroke-width="0.7" />
<text x="411.90" y="213.90" font-size="6.8" text-anchor="middle" font-weight="normal" fill="#111"  textLength="3.4" lengthAdjust="spacingAndGlyphs" stroke-width="0.160">3</text>
<text x="283.60" y="212.80" font-size="5.3" text-anchor="end" font-weight="normal" fill="#111"  stroke-width="0.104">Group</text>
<text x="284.40" y="224.60" font-size="5.4" text-anchor="end" font-weight="normal" fill="#111"  stroke-width="0.112">Doxycycline</text>
<rect x="307.60" y="221.30" width="2.60" height="1.30" fill="#000" stroke="none" stroke-width="0.6" />
<rect x="357.80" y="221.80" width="4.80" height="1.40" fill="#000" stroke="none" stroke-width="0.6" />
<rect x="359.50" y="220.00" width="1.40" height="5.00" fill="#000" stroke="none" stroke-width="0.6" />
<rect x="409.50" y="221.80" width="4.80" height="1.40" fill="#000" stroke="none" stroke-width="0.6" />
<rect x="411.20" y="220.00" width="1.40" height="5.00" fill="#000" stroke="none" stroke-width="0.6" />
<text x="306.20" y="233.10" font-size="5.5" text-anchor="middle" font-weight="normal" fill="#111"  stroke-width="0.120">TonBaF-R18 dimer</text>
<text x="308.50" y="240.30" font-size="5.6" text-anchor="middle" font-weight="normal" fill="#111"  stroke-width="0.128">4ZF</text>
<text x="309.40" y="247.50" font-size="4.8" text-anchor="middle" font-weight="normal" fill="#111"  stroke-width="0.064">(n=12)</text>
<text x="359.70" y="233.30" font-size="5.5" text-anchor="middle" font-weight="normal" fill="#111"  stroke-width="0.120">TonBaF-R18 dimer</text>
<text x="360.20" y="240.30" font-size="5.6" text-anchor="middle" font-weight="normal" fill="#111"  stroke-width="0.128">4ZF</text>
<text x="360.50" y="247.50" font-size="4.8" text-anchor="middle" font-weight="normal" fill="#111"  stroke-width="0.064">(n=12)</text>
<text x="414.10" y="233.30" font-size="5.7" text-anchor="middle" font-weight="normal" fill="#111"  stroke-width="0.136">TonBaF-R18 mutant</text>
<text x="412.00" y="240.30" font-size="5.6" text-anchor="middle" font-weight="normal" fill="#111"  stroke-width="0.128">4ZF</text>
<text x="412.00" y="247.50" font-size="4.8" text-anchor="middle" font-weight="normal" fill="#111"  stroke-width="0.064">(n=11)</text>
<polyline points="308.20,106.80 308.20,103.00 411.20,103.00 411.20,106.80" fill="none" stroke="#222" stroke-width="0.8"/>
<text x="356.60" y="100.40" font-size="4.8" text-anchor="middle" font-weight="normal" fill="#111"  stroke-width="0.064"><tspan font-style="italic">P</tspan> = .4512 (NS)</text>
<polyline points="360.60,117.40 360.60,113.60 410.50,113.60 410.50,117.40" fill="none" stroke="#222" stroke-width="0.8"/>
<text x="382.20" y="112.20" font-size="4.7" text-anchor="middle" font-weight="normal" fill="#111"  stroke-width="0.056"><tspan font-style="italic">P</tspan> = .005</text>
<polyline points="309.40,148.00 309.40,144.10 360.20,144.10 360.20,148.00" fill="none" stroke="#222" stroke-width="0.8"/>
<text x="330.00" y="141.60" font-size="4.6" text-anchor="middle" font-weight="normal" fill="#111"  stroke-width="0.048"><tspan font-style="italic">P</tspan> &lt; .001</text>
<circle cx="304.60" cy="157.20" r="1.5" fill="#fff" stroke="#666" stroke-width="0.5"/>
<circle cx="304.60" cy="160.50" r="1.5" fill="#fff" stroke="#666" stroke-width="0.5"/>
<circle cx="309.10" cy="159.60" r="1.5" fill="#fff" stroke="#666" stroke-width="0.5"/>
<circle cx="308.80" cy="165.00" r="1.5" fill="#fff" stroke="#666" stroke-width="0.5"/>
<circle cx="312.70" cy="164.50" r="1.5" fill="#fff" stroke="#666" stroke-width="0.5"/>
<circle cx="305.10" cy="170.10" r="1.5" fill="#fff" stroke="#666" stroke-width="0.5"/>
<circle cx="308.80" cy="170.90" r="1.5" fill="#fff" stroke="#666" stroke-width="0.5"/>
<circle cx="311.50" cy="168.20" r="1.5" fill="#fff" stroke="#666" stroke-width="0.5"/>
<circle cx="313.10" cy="173.30" r="1.5" fill="#fff" stroke="#666" stroke-width="0.5"/>
<circle cx="308.80" cy="176.50" r="1.5" fill="#fff" stroke="#666" stroke-width="0.5"/>
<circle cx="308.80" cy="190.30" r="1.5" fill="#fff" stroke="#666" stroke-width="0.5"/>
<circle cx="308.80" cy="196.20" r="1.5" fill="#fff" stroke="#666" stroke-width="0.5"/>
<circle cx="411.40" cy="122.30" r="1.5" fill="#fff" stroke="#666" stroke-width="0.5"/>
<circle cx="411.70" cy="162.70" r="1.5" fill="#fff" stroke="#666" stroke-width="0.5"/>
<circle cx="407.30" cy="165.80" r="1.5" fill="#fff" stroke="#666" stroke-width="0.5"/>
<circle cx="411.70" cy="169.00" r="1.5" fill="#fff" stroke="#666" stroke-width="0.5"/>
<circle cx="415.30" cy="174.30" r="1.5" fill="#fff" stroke="#666" stroke-width="0.5"/>
<circle cx="411.70" cy="176.20" r="1.5" fill="#fff" stroke="#666" stroke-width="0.5"/>
<circle cx="411.70" cy="182.00" r="1.5" fill="#fff" stroke="#666" stroke-width="0.5"/>
<circle cx="407.30" cy="196.40" r="1.5" fill="#fff" stroke="#666" stroke-width="0.5"/>
<circle cx="411.20" cy="197.30" r="1.5" fill="#fff" stroke="#666" stroke-width="0.5"/>
<circle cx="415.30" cy="196.40" r="1.5" fill="#fff" stroke="#666" stroke-width="0.5"/>
<circle cx="418.90" cy="196.40" r="1.5" fill="#fff" stroke="#666" stroke-width="0.5"/>
<circle cx="360.00" cy="185.40" r="1.3" fill="#fff" stroke="#5a5a5a" stroke-width="0.5"/>
<circle cx="360.00" cy="193.20" r="1.3" fill="#fff" stroke="#5a5a5a" stroke-width="0.5"/>
<circle cx="360.00" cy="201.40" r="1.3" fill="#fff" stroke="#5a5a5a" stroke-width="0.5"/>
<circle cx="344.20" cy="198.30" r="1.3" fill="#fff" stroke="#5a5a5a" stroke-width="0.5"/>
<circle cx="347.05" cy="198.30" r="1.3" fill="#fff" stroke="#5a5a5a" stroke-width="0.5"/>
<circle cx="349.90" cy="198.30" r="1.3" fill="#fff" stroke="#5a5a5a" stroke-width="0.5"/>
<circle cx="352.75" cy="198.30" r="1.3" fill="#fff" stroke="#5a5a5a" stroke-width="0.5"/>
<circle cx="355.60" cy="198.30" r="1.3" fill="#fff" stroke="#5a5a5a" stroke-width="0.5"/>
<circle cx="358.45" cy="198.30" r="1.3" fill="#fff" stroke="#5a5a5a" stroke-width="0.5"/>
<circle cx="361.30" cy="198.30" r="1.3" fill="#fff" stroke="#5a5a5a" stroke-width="0.5"/>
<circle cx="364.15" cy="198.30" r="1.3" fill="#fff" stroke="#5a5a5a" stroke-width="0.5"/>
<circle cx="367.00" cy="198.30" r="1.3" fill="#fff" stroke="#5a5a5a" stroke-width="0.5"/>
<circle cx="369.85" cy="198.30" r="1.3" fill="#fff" stroke="#5a5a5a" stroke-width="0.5"/>
<circle cx="372.70" cy="198.30" r="1.3" fill="#fff" stroke="#5a5a5a" stroke-width="0.5"/>
<circle cx="375.55" cy="198.30" r="1.3" fill="#fff" stroke="#5a5a5a" stroke-width="0.5"/>
<line x1="291.80" y1="169.00" x2="325.50" y2="169.00" stroke="#222" stroke-width="0.85" />
<line x1="343.20" y1="198.30" x2="376.80" y2="198.30" stroke="#222" stroke-width="0.7" />
<line x1="394.30" y1="176.20" x2="428.00" y2="176.20" stroke="#000" stroke-width="0.85" />
<text x="447.20" y="149.30" font-size="5.3" text-anchor="start" font-weight="normal" fill="#111"  stroke-width="0.104">Group</text>
<text x="471.30" y="149.50" font-size="6.2" text-anchor="middle" font-weight="normal" fill="#111"  stroke-width="0.160">1</text>
<text x="491.00" y="149.50" font-size="6.2" text-anchor="middle" font-weight="normal" fill="#111"  stroke-width="0.160">2</text>
<text x="511.00" y="149.50" font-size="6.2" text-anchor="middle" font-weight="normal" fill="#111"  stroke-width="0.160">3</text>
<rect x="460.60" y="150.90" width="57.90" height="30.40" fill="#a8a8a8" stroke="none" stroke-width="0.6" />
<path d="M472.6,155.0 C475.8,155.0 477.0,157.5 477.4,162 C477.9,167 478.4,172 477.4,175.8 C476.5,178.2 474.6,178.5 472.2,178.5 C469.3,178.5 467.3,177.4 466.7,174.2 C466.1,170.5 466.6,165.5 467.3,161.5 C468.0,157.3 469.6,155.0 472.6,155.0 Z" fill="#141414"/>
<ellipse cx="471.6" cy="162.5" rx="1.3" ry="2.2" fill="#2e2e2e"/>
<ellipse cx="470.8" cy="171.5" rx="1.1" ry="1.8" fill="#2a2a2a"/>
<path d="M491.2,160.9 C492.5,160.9 492.8,162 492.7,164 C492.6,166 492.2,167 492.4,169 C492.6,171 491.8,171.8 490.6,171.8 C489.5,171.8 489.2,170.5 489.3,168.5 C489.4,166 489.9,165 489.6,163 C489.4,161.5 490,160.9 491.2,160.9 Z" fill="#181818"/>
<path d="M511.6,156.3 C514.1,156.1 515.5,157.5 515.5,160.5 C515.5,165 515.3,169 514.9,172.5 C514.5,175.5 513.6,177.3 511.8,177.3 C510,177.3 508.8,175.5 508,173 C507.2,170.5 506.6,167.5 506.6,164 C506.6,160 508.6,156.5 511.6,156.3 Z" fill="#141414"/>
<ellipse cx="509.7" cy="165.8" rx="1.2" ry="3.4" fill="#5a5a5a"/>
<text x="491.20" y="189.10" font-size="5.4" text-anchor="middle" font-weight="normal" fill="#111"  stroke-width="0.112">Representative spleens</text>
</svg>
</body></html>
